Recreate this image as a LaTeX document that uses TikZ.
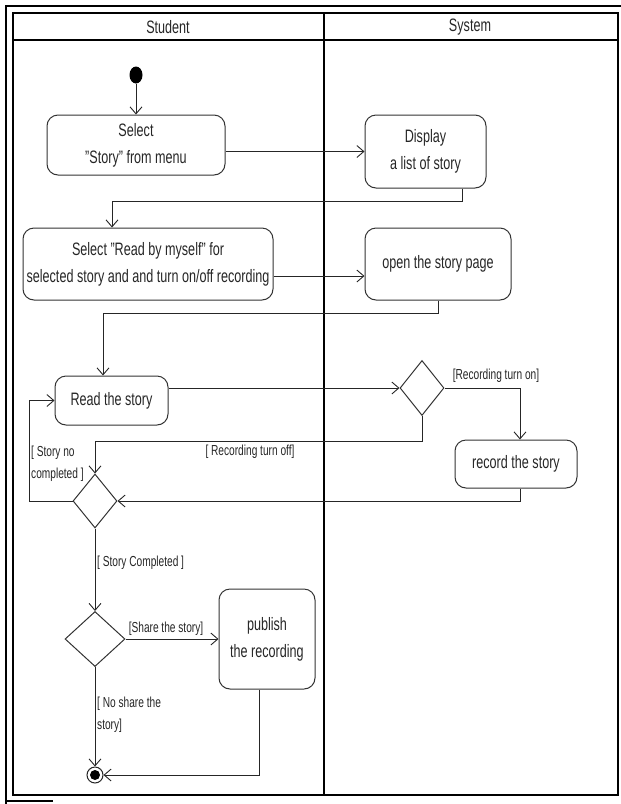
\documentclass[tikz,border=0pt]{standalone}
\usepackage{fontspec}
\setmainfont[FakeStretch=0.7]{Liberation Sans}
\usetikzlibrary{arrows.meta,shapes.geometric}
\tikzset{
  actbox/.style={draw=black!80, line width=1pt, rounded corners=11pt, align=center,
    inner sep=0pt, text=black!85, font=\fontsize{18}{27}\selectfont},
  decision/.style={diamond, draw=black!80, line width=1pt, inner sep=0pt},
  guard/.style={inner sep=0pt, align=left, text=black!85, font=\fontsize{14.5}{22}\selectfont},
  lanehead/.style={text=black!85, font=\fontsize{18}{22}\selectfont},
  flow/.style={-{Straight Barb[length=7pt,width=12pt]}, line width=0.9pt, draw=black!85},
}
\begin{document}
\begin{tikzpicture}[x=1pt,y=-1pt]
                \useasboundingbox (0,0) rectangle (621,804);
                % frame and swimlanes
                \draw[line width=2.5pt] (6,804) -- (6,6) -- (621,6);
                \draw[line width=2.5pt] (6,801) -- (53,801);
                \draw[line width=1.5pt] (13,13) rectangle (618,795);
                \draw[line width=2pt] (13,40) -- (618,40);
                \draw[line width=1.6pt] (324,13) -- (324,795);
                \node[lanehead] (hstudent) at (168,27) {Student};
                \node[lanehead] (hsystem) at (470,27) {System};

                % student lane
                \node[ellipse, fill=black, minimum width=13pt, minimum height=17pt, inner sep=0pt] (start) at (136,75) {};
                \node[actbox, minimum width=178pt, minimum height=60pt] (selstory) at (136,145) {Select\\"Story" from menu};
                \node[actbox, minimum width=250pt, minimum height=72pt] (selread) at (148,264) {Select "Read by myself" for\\selected story and and turn on/off recording};
                \node[actbox, minimum width=113pt, minimum height=49pt] (readstory) at (111.5,400.5) {Read the story};
                \node[decision, minimum width=44pt, minimum height=54pt] (merge) at (95,501) {};
                \node[decision, minimum width=60pt, minimum height=55pt] (share) at (95,639) {};
                \node[actbox, minimum width=96pt, minimum height=100pt] (publish) at (267,639) {publish\\the recording};
                \node[circle, draw=black!85, line width=1pt, minimum size=16pt, inner sep=0pt,
                      path picture={\fill (path picture bounding box.center) circle (5pt);}] (finish) at (95,775) {};

                % system lane
                \node[actbox, minimum width=121pt, minimum height=73pt] (display) at (425.5,151.5) {Display\\a list of story};
                \node[actbox, minimum width=146pt, minimum height=72pt] (openpage) at (438,264) {open the story page};
                \node[decision, minimum width=44pt, minimum height=55pt] (recq) at (422,388) {};
                \node[actbox, minimum width=122pt, minimum height=48pt] (record) at (516,464) {record the story};

                % guards
                \node[guard] (lblon) at (496,376) {[Recording turn on]};
                \node[guard] (lbloff) at (250,452) {[ Recording turn off]};
                \node[guard, anchor=west] (lblnotdone) at (31,464) {[ Story no\\completed ]};
                \node[guard, anchor=west] (lbldone) at (97,563) {[ Story Completed ]};
                \node[guard] (lblshare) at (166,629) {[Share the story]};
                \node[guard, anchor=west] (lblnoshare) at (97,715) {[ No share the\\story]};

                % flows
                \draw[flow] (start) -- (selstory);
                \draw[flow] (selstory.east |- display.west) -- (display.west);
                \draw[flow] ([xshift=36.5pt]display.south) -- ++(0,13) -| ([xshift=-36pt]selread.north);
                \draw[flow] ([yshift=-12pt]selread.east) -- ([yshift=-12pt]openpage.west);
                \draw[flow] (openpage.south) -- ++(0,13) -| ([xshift=-8.5pt]readstory.north);
                \draw[flow] (readstory.east |- recq.west) -- (recq.west);
                \draw[flow] (recq.east) -| ([xshift=4pt]record.north);
                \draw[flow] (recq.south) -- ++(0,25) -| (merge.north);
                \draw[flow] ([xshift=4pt]record.south) |- (merge.east);
                \draw[flow] (merge.west) -- ++(-43,0) |- (readstory.west);
                \draw[flow] (merge) -- (share);
                \draw[flow] (share) -- (publish);
                \draw[flow] (share) -- (finish);
                \draw[flow] ([xshift=-8pt]publish.south) |- (finish.east);
            \end{tikzpicture}
\end{document}
